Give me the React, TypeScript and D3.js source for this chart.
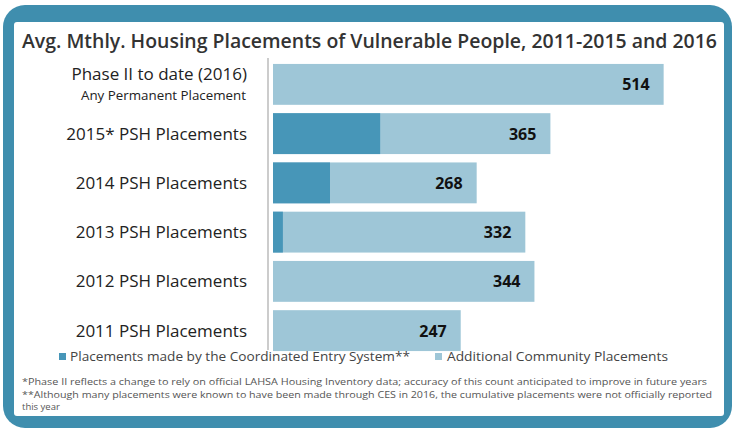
import React from "react";
import * as d3 from "d3";

const categories = ["Phase II to date (2016)", "2015* PSH Placements", "2014 PSH Placements", "2013 PSH Placements", "2012 PSH Placements", "2011 PSH Placements"];
const subLabels = ["Any Permanent Placement", "", "", "", "", ""];
const totals = [514, 365, 268, 332, 344, 247];
const cesValues = [0, 141, 75, 13, 0, 0];
const legendLabels = ["Placements made by the Coordinated Entry System**", "Additional Community Placements"];
const title = "Avg. Mthly. Housing Placements of Vulnerable People, 2011-2015 and 2016";
const footnotes = [
  "*Phase II reflects a change to rely  on official LAHSA Housing Inventory data; accuracy of this count anticipated to improve in future years",
  "**Although many placements were known to have been made through CES in 2016, the cumulative placements were not officially reported",
  "this year",
];

const W = 735, H = 428;
const DARK = "#4796b8";
const LIGHT = "#9ec6d7";
const FRAME = "#3f8eae";

export default function App() {
  const x = d3.scaleLinear().domain([0, 514]).range([273, 273 + 514 * 0.76]);
  const y = d3.scaleBand<string>().domain(categories).range([60, 355]).paddingInner(0.17).paddingOuter(0.08);
  const bw = y.bandwidth();
  const font = "'Open Sans', sans-serif";
  return (
    <svg width={W} height={H} style={{ position: "absolute", left: 0, top: 0, background: "#fff" }}>
      <rect x={3} y={5} width={729} height={423} rx={22} fill={FRAME} />
      <rect x={14} y={22} width={710} height={394} rx={3} fill="#fff" />
      <text x={22} y={48} fontFamily={font} fontSize={19} fontWeight={600} fill="#333" textLength={695} lengthAdjust="spacingAndGlyphs">{title}</text>
      <line x1={268} x2={268} y1={58} y2={350} stroke="#999" strokeWidth={1} />
      {categories.map((c, i) => {
        const yy = y(c)!;
        const ext = x(totals[i]);
        const ces = x(cesValues[i]);
        return (
          <g key={c}>
            <rect x={x(0)} y={yy} width={ext - x(0)} height={bw} fill={LIGHT} />
            {cesValues[i] > 0 && <rect x={x(0)} y={yy} width={ces - x(0)} height={bw} fill={DARK} />}
            {subLabels[i] ? (
              <>
                <text x={247} y={yy + 16} textAnchor="end" fontFamily={font} fontSize={17} fill="#222">{c}</text>
                <text x={246} y={yy + 36} textAnchor="end" fontFamily={font} fontSize={12.5} fill="#222" textLength={165} lengthAdjust="spacingAndGlyphs">{subLabels[i]}</text>
              </>
            ) : (
              <text x={247} y={yy + bw / 2 + 6} textAnchor="end" fontFamily={font} fontSize={17} fill="#222">{c}</text>
            )}
            <text x={ext - 14} y={yy + bw / 2 + 6} textAnchor="end" fontFamily={font} fontSize={16} fontWeight={700} fill="#111">{totals[i]}</text>
          </g>
        );
      })}
      <rect x={59} y={353} width={7} height={7} fill={DARK} />
      <text x={70} y={361} fontFamily={font} fontSize={13} fill="#444" textLength={340} lengthAdjust="spacingAndGlyphs">{legendLabels[0]}</text>
      <rect x={435} y={353} width={7} height={7} fill={LIGHT} />
      <text x={447} y={361} fontFamily={font} fontSize={13} fill="#444" textLength={221} lengthAdjust="spacingAndGlyphs">{legendLabels[1]}</text>
      {footnotes.map((f, i) => (
        <text key={i} x={22} y={385 + i * 12.5} fontFamily={font} fontSize={9.5} fill="#555"
          textLength={i === 0 ? 685 : i === 1 ? 690 : undefined} lengthAdjust="spacingAndGlyphs">{f}</text>
      ))}
    </svg>
  );
}
